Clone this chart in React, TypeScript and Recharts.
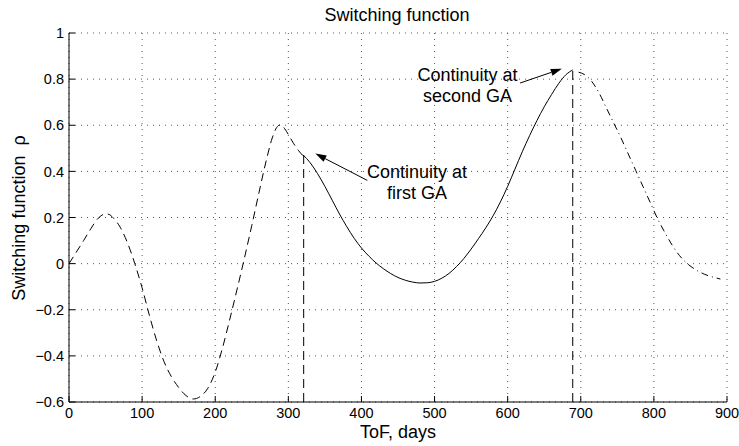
import React from "react";
import {
  LineChart,
  Line,
  XAxis,
  YAxis,
  CartesianGrid,
  ReferenceLine,
  ReferenceDot,
} from "recharts";

// Switching function rho vs time of flight, split at the two gravity assists
const coastX = [0, 10, 20, 30, 40, 45, 50, 55, 60, 70, 80, 90, 100, 110, 120, 130, 140, 150, 160, 170, 180, 190, 200, 210, 220, 230, 240, 250, 260, 270, 278, 284, 289, 295, 300, 307, 314, 320];
const coastY = [0, 0.05, 0.1, 0.152, 0.197, 0.21, 0.216, 0.213, 0.2, 0.158, 0.09, 0.0, -0.105, -0.225, -0.335, -0.425, -0.49, -0.537, -0.572, -0.587, -0.575, -0.54, -0.47, -0.365, -0.24, -0.11, 0.025, 0.165, 0.31, 0.45, 0.545, 0.59, 0.602, 0.585, 0.56, 0.522, 0.49, 0.468];

const midX = [320, 330, 340, 350, 360, 370, 380, 390, 400, 410, 420, 430, 440, 450, 460, 470, 480, 490, 500, 510, 520, 530, 540, 550, 560, 570, 580, 590, 600, 610, 620, 630, 640, 650, 660, 670, 680, 689];
const midY = [0.472, 0.437, 0.39, 0.335, 0.275, 0.215, 0.16, 0.11, 0.068, 0.033, 0.003, -0.022, -0.043, -0.06, -0.072, -0.08, -0.084, -0.083, -0.077, -0.063, -0.042, -0.013, 0.022, 0.063, 0.108, 0.155, 0.207, 0.267, 0.335, 0.41, 0.485, 0.555, 0.62, 0.68, 0.733, 0.782, 0.82, 0.84];

const tailX = [697, 705, 715, 725, 735, 745, 755, 765, 775, 785, 795, 805, 815, 825, 835, 845, 855, 865, 875, 885, 891];
const tailY = [0.83, 0.82, 0.79, 0.74, 0.675, 0.61, 0.545, 0.475, 0.405, 0.335, 0.265, 0.195, 0.135, 0.08, 0.035, 0.002, -0.022, -0.04, -0.053, -0.062, -0.067];

// gravity assist epochs and the switching function value there
const gaDays = [321, 689];
const gaRho = [0.47, 0.84];

const xTicks = [0, 100, 200, 300, 400, 500, 600, 700, 800, 900];
const yTicks = [-0.6, -0.4, -0.2, 0, 0.2, 0.4, 0.6, 0.8, 1];

const noteLines = [
  ["Continuity at", "first GA"],
  ["Continuity at", "second GA"],
];
const noteAt = [
  { x: 476, y: 0.4 },
  { x: 545, y: 0.819 },
];
const arrowFrom = [
  { x: 408, y: 0.361 },
  { x: 617, y: 0.783 },
];
const arrowTo = [
  { x: 337, y: 0.477 },
  { x: 674, y: 0.845 },
];

const FONT = "'Liberation Sans', Arial, Helvetica, sans-serif";
const W = 739;
const H = 446;

const toPoints = (xs: number[], ys: number[]) => xs.map((x, i) => ({ x, y: ys[i] }));

const fmtY = (v: number) => {
  if (v === 0) return "0";
  const s = String(Math.abs(Math.round(v * 10) / 10));
  return v < 0 ? "\u2212" + s : s;
};

function ArrowShape(props: any) {
  const { x1, y1, x2, y2 } = props;
  const a = Math.atan2(y2 - y1, x2 - x1);
  const len = 11;
  const half = 3.5;
  const bx = x2 - len * Math.cos(a);
  const by = y2 - len * Math.sin(a);
  const px = half * Math.sin(a);
  const py = half * Math.cos(a);
  return (
    <g>
      <line x1={x1} y1={y1} x2={bx} y2={by} stroke="#000" strokeWidth={1} />
      <polygon
        points={`${x2},${y2} ${bx - px},${by + py} ${bx + px},${by - py}`}
        fill="#000"
      />
    </g>
  );
}

const noteShape = (lines: string[]) => (props: any) => (
  <g>
    {lines.map((t, i) => (
      <text
        key={t}
        x={props.cx}
        y={props.cy + i * 21}
        dy="0.35em"
        textAnchor="middle"
        fontFamily={FONT}
        fontSize={18}
        fill="#000"
      >
        {t}
      </text>
    ))}
  </g>
);

export default function App() {
  const tickStyle = { fill: "#000", fontSize: 14.5, fontFamily: FONT };
  return (
    <div style={{ position: "absolute", left: 0, top: 0, width: W, height: H, background: "#fff" }}>
      <LineChart width={W} height={H} margin={{ top: 33, right: 12, bottom: 14, left: 9 }}>
        <CartesianGrid stroke="#555" strokeDasharray="1 5" />
        <XAxis
          type="number"
          dataKey="x"
          domain={[0, 900]}
          ticks={xTicks}
          interval={0}
          height={30}
          tickSize={-6}
          tickMargin={12}
          tick={tickStyle}
          stroke="#000"
        />
        <XAxis
          xAxisId="top"
          orientation="top"
          type="number"
          dataKey="x"
          domain={[0, 900]}
          ticks={xTicks}
          interval={0}
          height={0}
          tickSize={6}
          tick={false}
          stroke="#000"
          mirror
        />
        <YAxis
          type="number"
          domain={[-0.6, 1]}
          ticks={yTicks}
          interval={0}
          width={60}
          tickSize={-6}
          tickMargin={11}
          tick={tickStyle}
          tickFormatter={fmtY}
          stroke="#000"
        />
        <YAxis
          yAxisId="right"
          orientation="right"
          type="number"
          domain={[-0.6, 1]}
          ticks={yTicks}
          interval={0}
          width={0}
          tickSize={6}
          tick={false}
          stroke="#000"
          mirror
        />

        <Line
          data={toPoints(coastX, coastY)}
          dataKey="y"
          type="monotone"
          stroke="#000"
          strokeWidth={1}
          strokeDasharray="8 5"
          dot={false}
          isAnimationActive={false}
        />
        <Line
          data={toPoints(midX, midY)}
          dataKey="y"
          type="monotone"
          stroke="#000"
          strokeWidth={1}
          dot={false}
          isAnimationActive={false}
        />
        <Line
          data={toPoints(tailX, tailY)}
          dataKey="y"
          type="monotone"
          stroke="#000"
          strokeWidth={1}
          strokeDasharray="7 4 1 4"
          dot={false}
          isAnimationActive={false}
        />

        {gaDays.map((d, i) => (
          <ReferenceLine
            key={`ga-${d}`}
            segment={[{ x: d, y: -0.6 }, { x: d, y: gaRho[i] }]}
            stroke="#000"
            strokeWidth={1}
            strokeDasharray="9 5"
          />
        ))}
        {arrowFrom.map((p, i) => (
          <ReferenceLine
            key={`arrow-${i}`}
            segment={[p, arrowTo[i]]}
            shape={ArrowShape}
          />
        ))}
        {noteAt.map((p, i) => (
          <ReferenceDot
            key={`note-${i}`}
            x={p.x}
            y={p.y}
            r={0}
            shape={noteShape(noteLines[i])}
          />
        ))}
      </LineChart>

      <svg
        width={W}
        height={H}
        style={{ position: "absolute", left: 0, top: 0, pointerEvents: "none" }}
      >
        <text x={397} y={21} textAnchor="middle" fontFamily={FONT} fontSize={18} fill="#000">
          Switching function
        </text>
        <text x={398} y={438} textAnchor="middle" fontFamily={FONT} fontSize={18} fill="#000">
          ToF, days
        </text>
        <text
          x={0}
          y={0}
          transform="translate(25,218) rotate(-90)"
          textAnchor="middle"
          fontFamily={FONT}
          fontSize={18}
          fill="#000"
          style={{ whiteSpace: "pre" }}
        >
          {"Switching function  \u03c1"}
        </text>
      </svg>
    </div>
  );
}
